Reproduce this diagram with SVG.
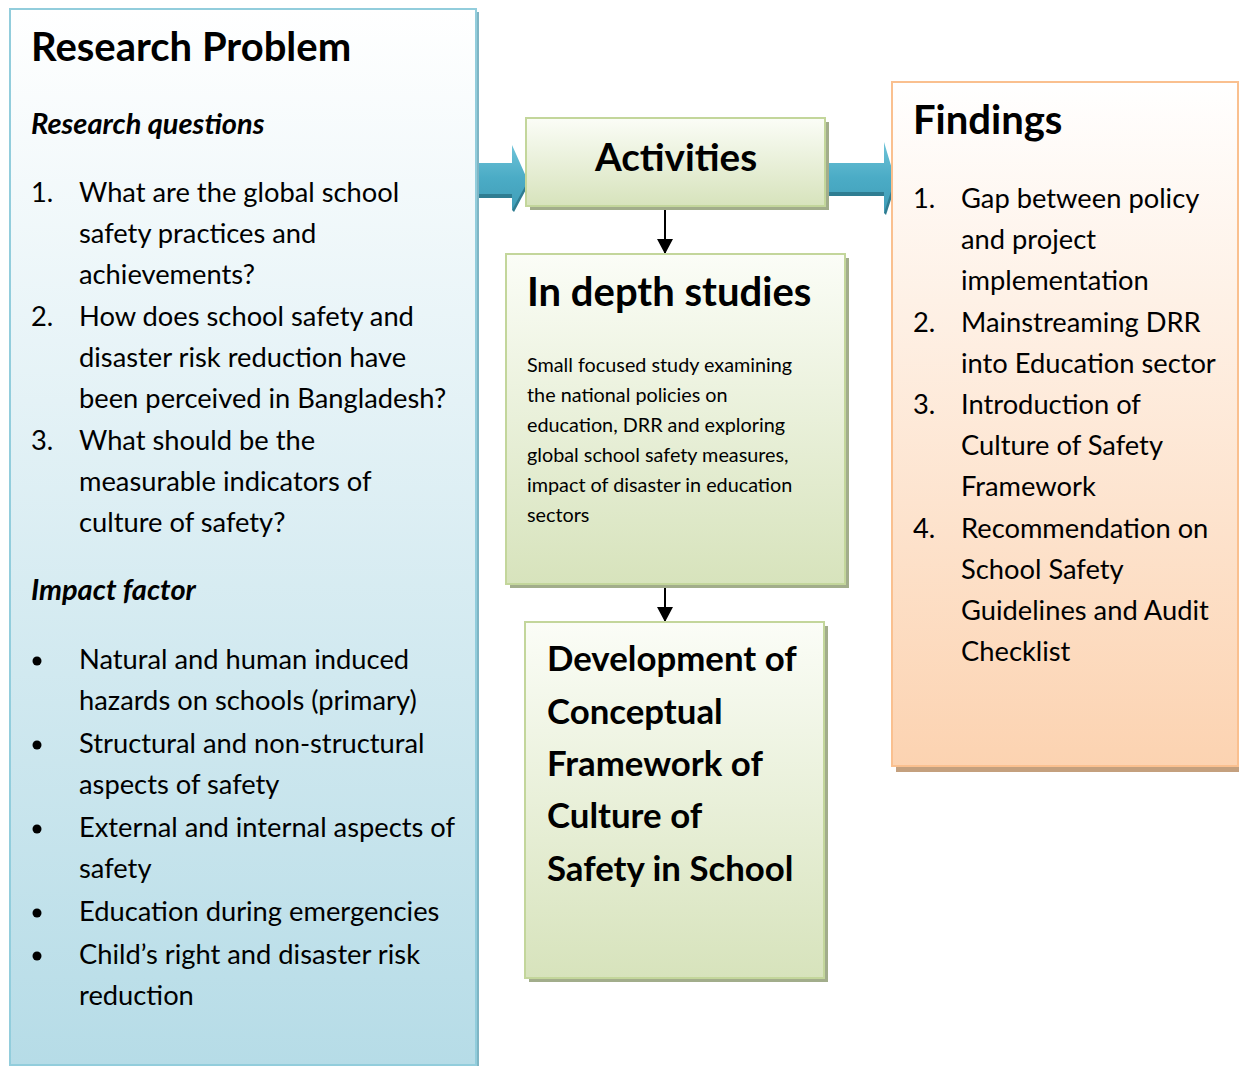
<svg xmlns="http://www.w3.org/2000/svg" width="1239" height="1066" viewBox="0 0 1239 1066">
<defs>
<linearGradient id="gBlue" x1="0" y1="0" x2="0" y2="1"><stop offset="0" stop-color="#ffffff"/><stop offset="1" stop-color="#b6dce7"/></linearGradient>
<linearGradient id="gGreen" x1="0" y1="0" x2="0" y2="1"><stop offset="0" stop-color="#fbfdf7"/><stop offset="1" stop-color="#d7e3bc"/></linearGradient>
<linearGradient id="gOrange" x1="0" y1="0" x2="0" y2="1"><stop offset="0" stop-color="#ffffff"/><stop offset="1" stop-color="#fcd3b1"/></linearGradient>
<linearGradient id="gArrow" x1="0" y1="0" x2="0" y2="1"><stop offset="0" stop-color="#6fc3d8"/><stop offset="0.5" stop-color="#4bacc6"/><stop offset="1" stop-color="#409db7"/></linearGradient>
<marker id="ah" markerWidth="16" markerHeight="16" refX="15" refY="8" orient="auto" markerUnits="userSpaceOnUse"><path d="M0,0 L15,8 L0,16 Z" fill="#000"/></marker>
<style>
text{font-family:Lato,"Open Sans","Liberation Sans",sans-serif;fill:#000}
.h{font-weight:bold;font-size:40px}
.a{font-weight:bold;font-size:38.6px}
.hi{font-weight:bold;font-style:italic;font-size:29px}
.t{font-size:27.3px}
.s{font-size:19.8px}
.d{font-weight:bold;font-size:34.8px}
.bl{fill:url(#gBlue);stroke:#92cddc;stroke-width:2}
.gr{fill:url(#gGreen);stroke:#c3d69b;stroke-width:2}
.or{fill:url(#gOrange);stroke:#fac08f;stroke-width:2}
.shg{fill:#a2ad8b}
.sho{fill:#c4a07e}
.shb{fill:#7fb5c4}
.ar{fill:url(#gArrow)}
.ad{fill:#2f7d92}
</style>
</defs>
<g id="connectors">
<path d="M476,191 H513 V198 H476 Z" class="ad"/>
<path d="M516,190 L530,182 L514,212 L512,210 Z" class="ad"/>
<path d="M476,163 H512 V145 L528,181 L512,210 V194 H476 Z" class="ar"/>
<path d="M824,189 H885 V196 H824 Z" class="ad"/>
<path d="M886,190 L897,181 L886,215 L884,213 Z" class="ad"/>
<path d="M824,163 H884 V142 L895,179 L884,213 V192 H824 Z" class="ar"/>
<line x1="665" y1="207" x2="665" y2="254" stroke="#000" stroke-width="2" marker-end="url(#ah)"/>
<line x1="665" y1="584" x2="665" y2="622" stroke="#000" stroke-width="2" marker-end="url(#ah)"/>
</g>
<g id="research-problem">
<rect x="13" y="12" width="466" height="1056" class="shb"/>
<rect x="10" y="9" width="466" height="1056" class="bl"/>
<text x="31" y="61" class="h">Research Problem</text>
<text x="31" y="134" class="hi">Research questions</text>
<g class="t">
<text x="31" y="202">1.</text><text x="79" y="202">What are the global school</text>
<text x="79" y="243">safety practices and</text>
<text x="79" y="284">achievements?</text>
<text x="31" y="326">2.</text><text x="79" y="326">How does school safety and</text>
<text x="79" y="367">disaster risk reduction have</text>
<text x="79" y="408">been perceived in Bangladesh?</text>
<text x="31" y="450">3.</text><text x="79" y="450">What should be the</text>
<text x="79" y="491">measurable indicators of</text>
<text x="79" y="532">culture of safety?</text>
</g>
<text x="31" y="600" class="hi">Impact factor</text>
<g class="t">
<circle cx="37" cy="661" r="4.5"/><text x="79" y="669">Natural and human induced</text>
<text x="79" y="710">hazards on schools (primary)</text>
<circle cx="37" cy="745" r="4.5"/><text x="79" y="753">Structural and non-structural</text>
<text x="79" y="794">aspects of safety</text>
<circle cx="37" cy="829" r="4.5"/><text x="79" y="837">External and internal aspects of</text>
<text x="79" y="878">safety</text>
<circle cx="37" cy="913" r="4.5"/><text x="79" y="921">Education during emergencies</text>
<circle cx="37" cy="956" r="4.5"/><text x="79" y="964">Child’s right and disaster risk</text>
<text x="79" y="1005">reduction</text>
</g>
</g>
<g id="activities">
<rect x="530" y="122" width="299" height="88" class="shg"/>
<rect x="526" y="118" width="299" height="88" class="gr"/>
<text x="676" y="171" class="a" text-anchor="middle">Activities</text>
</g>
<g id="in-depth-studies">
<rect x="510" y="258" width="339" height="330" class="shg"/>
<rect x="506" y="254" width="339" height="330" class="gr"/>
<text x="527" y="306" class="h">In depth studies</text>
<g class="s">
<text x="527" y="372">Small focused study examining</text>
<text x="527" y="402">the national policies on</text>
<text x="527" y="432">education, DRR and exploring</text>
<text x="527" y="462">global school safety measures,</text>
<text x="527" y="492">impact of disaster in education</text>
<text x="527" y="522">sectors</text>
</g>
</g>
<g id="development">
<rect x="529" y="626" width="299" height="356" class="shg"/>
<rect x="525" y="622" width="299" height="356" class="gr"/>
<g class="d">
<text x="547" y="671">Development of</text>
<text x="547" y="724">Conceptual</text>
<text x="547" y="776">Framework of</text>
<text x="547" y="828">Culture of</text>
<text x="547" y="881">Safety in School</text>
</g>
</g>
<g id="findings">
<rect x="896" y="87" width="343" height="685" class="sho"/>
<rect x="892" y="82" width="346" height="684" class="or"/>
<text x="913" y="134" class="h">Findings</text>
<g class="t">
<text x="913" y="208">1.</text><text x="961" y="208">Gap between policy</text>
<text x="961" y="249">and project</text>
<text x="961" y="290">implementation</text>
<text x="913" y="332">2.</text><text x="961" y="332">Mainstreaming DRR</text>
<text x="961" y="373">into Education sector</text>
<text x="913" y="414">3.</text><text x="961" y="414">Introduction of</text>
<text x="961" y="455">Culture of Safety</text>
<text x="961" y="496">Framework</text>
<text x="913" y="538">4.</text><text x="961" y="538">Recommendation on</text>
<text x="961" y="579">School Safety</text>
<text x="961" y="620">Guidelines and Audit</text>
<text x="961" y="661">Checklist</text>
</g>
</g>
</svg>
